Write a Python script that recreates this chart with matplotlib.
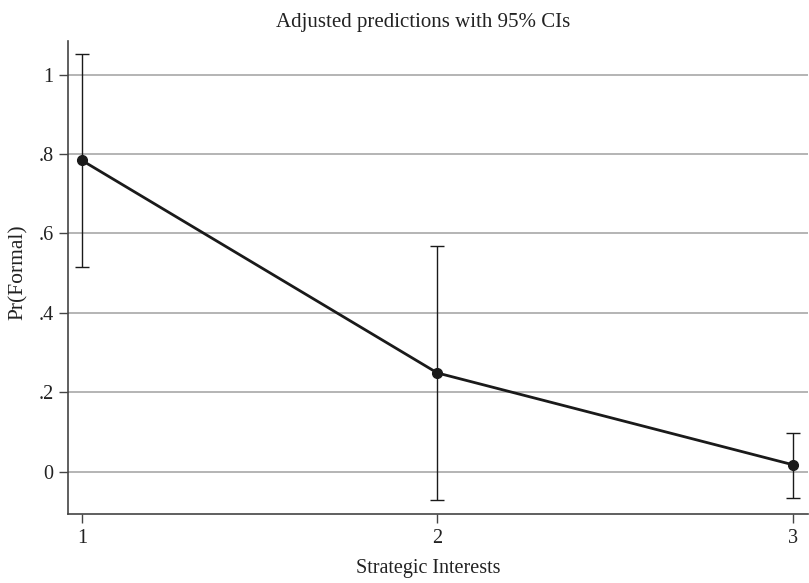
import matplotlib
matplotlib.use("Agg")
import matplotlib.pyplot as plt

# margins: adjusted predictions with 95% CIs
levels = [1, 2, 3]
pred = [0.784, 0.249, 0.018]
ci_lo = [0.515, -0.070, -0.065]
ci_hi = [1.052, 0.568, 0.099]
yticks = [0, 0.2, 0.4, 0.6, 0.8, 1.0]
yticklabels = ["0", ".2", ".4", ".6", ".8", "1"]

plt.rcParams["font.family"] = ["Liberation Serif", "DejaVu Serif"]

fig = plt.figure(figsize=(8.09, 5.83), dpi=100)
ax = fig.add_axes([0.0841, 0.1184, 0.9147, 0.8116])

lo_err = [p - l for p, l in zip(pred, ci_lo)]
hi_err = [h - p for p, h in zip(pred, ci_hi)]
ax.errorbar(levels, pred, yerr=[lo_err, hi_err], fmt="none", ecolor="#1a1a1a",
            elinewidth=1.0, capsize=5, capthick=1.0, zorder=3)
ax.plot(levels, pred, color="#1a1a1a", lw=2.0, marker="o", ms=7, zorder=4)

ax.set_xlim(0.961, 3.043)
ax.set_ylim(-0.106, 1.085)
ax.set_xticks(levels)
ax.set_xticklabels([str(v) for v in levels])
ax.set_yticks(yticks)
ax.set_yticklabels(yticklabels)
ax.yaxis.grid(True, color="#a8a8a8", lw=1.2)
ax.set_axisbelow(True)

for s in ["top", "right"]:
    ax.spines[s].set_visible(False)
for s in ["left", "bottom"]:
    ax.spines[s].set_color("#444444")
    ax.spines[s].set_linewidth(1.2)
ax.tick_params(axis="both", length=6.5, width=1.0, color="#444444",
               labelsize=14.5, labelcolor="#222222", pad=4)

fig.text(423 / 809, 1 - 22 / 583, "Adjusted predictions with 95% CIs", fontsize=15,
         color="#222222", ha="center", va="center")
fig.text(428 / 809, 1 - 568 / 583, "Strategic Interests", fontsize=14.5,
         color="#222222", ha="center", va="center")
fig.text(18 / 809, 1 - 272 / 583, "Pr(Formal)", fontsize=15.5, rotation=90,
         color="#222222", ha="center", va="center")

fig.savefig("out.png", dpi=100)
